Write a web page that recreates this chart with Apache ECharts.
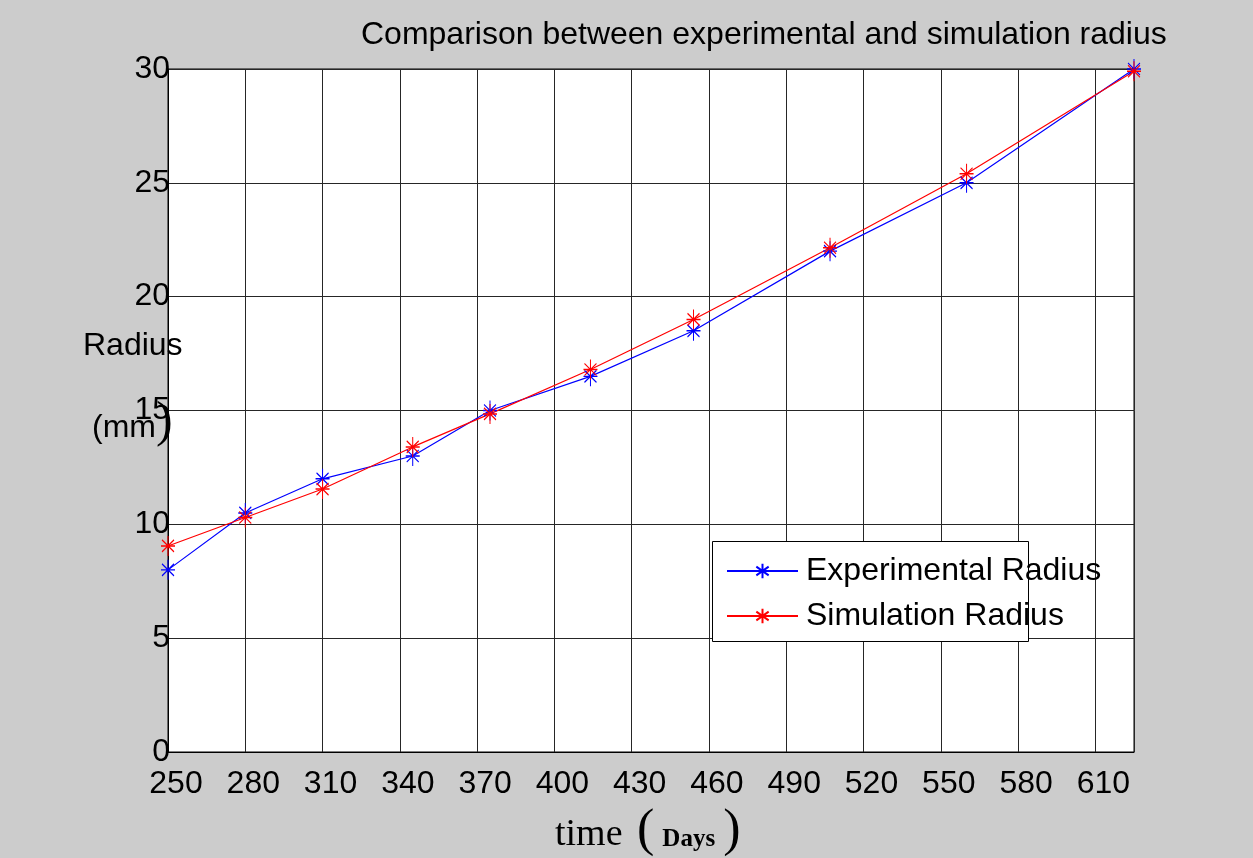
<!DOCTYPE html>
<html>
<head>
<meta charset="utf-8">
<script src="https://cdn.jsdelivr.net/npm/echarts@6/dist/echarts.min.js"></script>
<style>
  html, body { margin: 0; padding: 0; background: #cccccc; }
  #chart { width: 1253px; height: 858px; }
</style>
</head>
<body>
<div id="chart"></div>
<script>
// ---- data ----
const days = [250, 280, 310, 345, 375, 414, 454, 507, 560, 625];
const experimentalRadius = [8.0, 10.5, 12.0, 13.0, 15.0, 16.5, 18.5, 22.0, 25.0, 30.0];
const simulationRadius   = [9.05, 10.3, 11.55, 13.4, 14.85, 16.8, 19.0, 22.15, 25.4, 29.9];
const xTickLabels = [250, 280, 310, 340, 370, 400, 430, 460, 490, 520, 550, 580, 610];
const yTickLabels = [0, 5, 10, 15, 20, 25, 30];
const seriesNames = ['Experimental Radius', 'Simulation Radius'];
const chartTitle = 'Comparison between experimental and simulation radius';

const SANS = "'Liberation Sans', Arial, Helvetica, sans-serif";
const SERIF = "'Liberation Serif', 'Times New Roman', serif";
const ASTERISK = 'path://M0,-10L0,10M-7,0L7,0M-6,-6L6,6M-6,6L6,-6';

function pairs(xs, ys) { return xs.map((x, i) => [x, ys[i]]); }

function lineSeries(name, values, color) {
  return {
    name: name,
    type: 'line',
    data: pairs(days, values),
    symbol: ASTERISK,
    symbolSize: [14, 20],
    showAllSymbol: true,
    lineStyle: { color: color, width: 1.2 },
    itemStyle: { color: color, borderColor: color, borderWidth: 1.2 },
    emphasis: { disabled: true },
    animation: false,
    z: 2
  };
}

const chart = echarts.init(document.getElementById('chart'), null, { renderer: 'canvas' });
chart.setOption({
  backgroundColor: '#cccccc',
  animation: false,
  title: [
    {
      text: chartTitle, left: 361, top: 19, padding: 0,
      textStyle: { fontFamily: SANS, fontSize: 32, fontWeight: 'normal', color: '#000' }
    },
    {
      text: 'Radius', left: 83, top: 330, padding: 0,
      textStyle: { fontFamily: SANS, fontSize: 32, fontWeight: 'normal', color: '#000' }
    },
    {
      text: '{a|(mm}{b|)}', left: 92, top: 398, padding: 0,
      textStyle: {
        fontWeight: 'normal',
        rich: {
          a: { fontFamily: SANS, fontSize: 32, fontWeight: 'normal', lineHeight: 32, color: '#000', verticalAlign: 'bottom', padding: [0, 0, 3.6, 0] },
          b: { fontFamily: SERIF, fontSize: 50, fontWeight: 'normal', lineHeight: 50, color: '#000', verticalAlign: 'bottom' }
        }
      }
    },
    {
      text: '{t|time }{p1|(}{d|Days}{p2|)}', left: 555, top: 805, padding: 0,
      textStyle: {
        fontWeight: 'normal',
        rich: {
          t: { fontFamily: SERIF, fontSize: 38, fontWeight: 'normal', lineHeight: 38, color: '#000', verticalAlign: 'bottom', padding: [0, 5, 2.7, 0] },
          p1: { fontFamily: SERIF, fontSize: 52, fontWeight: 'normal', lineHeight: 52, color: '#000', verticalAlign: 'bottom', padding: [0, 8, 0, 0] },
          d: { fontFamily: SERIF, fontSize: 25, fontWeight: 'bold', lineHeight: 25, color: '#000', verticalAlign: 'bottom', padding: [0, 8, 5.2, 0] },
          p2: { fontFamily: SERIF, fontSize: 52, fontWeight: 'normal', lineHeight: 52, color: '#000', verticalAlign: 'bottom' }
        }
      }
    }
  ],
  grid: {
    left: 168, top: 69, right: 119, bottom: 106,
    show: true, backgroundColor: '#ffffff', borderColor: '#000000', borderWidth: 1,
    containLabel: false
  },
  legend: {
    data: seriesNames,
    orient: 'vertical',
    left: 726, top: 555,
    padding: 0,
    itemWidth: 71, itemHeight: 18, itemGap: 13,
    selectedMode: false,
    textStyle: { fontFamily: SANS, fontSize: 32, color: '#000', padding: [0, 0, 0, 3] },
    z: 5
  },
  graphic: [
    {
      type: 'rect', left: 712, top: 541, z: 3,
      shape: { width: 316, height: 100 },
      style: { fill: '#ffffff', stroke: '#000000', lineWidth: 1 }
    }
  ],
  xAxis: {
    type: 'value',
    min: xTickLabels[0], max: days[days.length - 1], interval: 30,
    axisLine: { show: true, lineStyle: { color: '#000', width: 1 } },
    axisTick: { show: false },
    splitLine: { show: true, lineStyle: { color: '#262626', width: 1 } },
    axisLabel: {
      fontFamily: SANS, fontSize: 32, color: '#000', margin: 16,
      padding: [0, 0, 0, 16],
      showMaxLabel: false,
      formatter: function (v) { return xTickLabels.indexOf(Math.round(v)) >= 0 && Math.abs(v - Math.round(v)) < 1e-6 ? String(Math.round(v)) : ''; }
    }
  },
  yAxis: {
    type: 'value',
    min: yTickLabels[0], max: yTickLabels[yTickLabels.length - 1], interval: 5,
    axisLine: { show: true, lineStyle: { color: '#000', width: 1 } },
    axisTick: { show: false },
    splitLine: { show: true, lineStyle: { color: '#262626', width: 1 } },
    axisLabel: { fontFamily: SANS, fontSize: 32, color: '#000', margin: -2 }
  },
  series: [
    lineSeries(seriesNames[0], experimentalRadius, '#0000ff'),
    lineSeries(seriesNames[1], simulationRadius, '#ff0000')
  ]
});
</script>
</body>
</html>
